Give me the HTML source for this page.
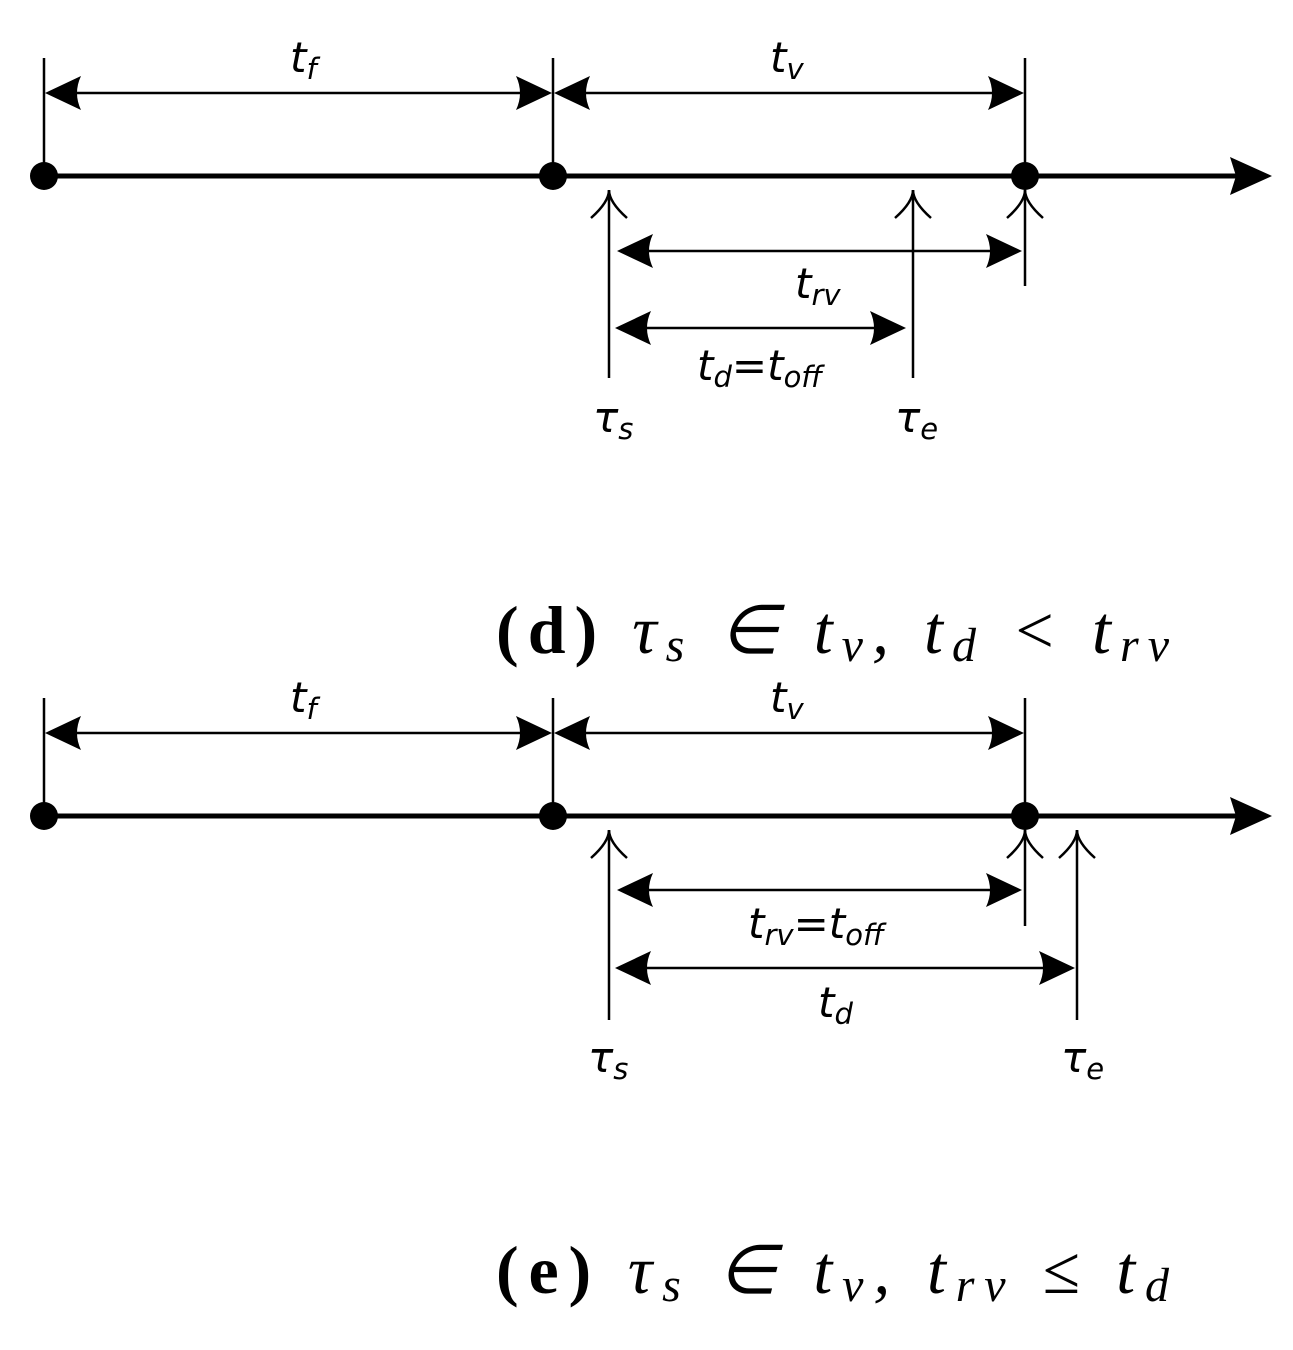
<!DOCTYPE html>
<html><head><meta charset="utf-8"><style>
html,body{margin:0;padding:0;background:#fff;}
svg{display:block;}
.l{font-family:"DejaVu Sans","Liberation Sans",sans-serif;font-style:italic;}
.c{font-family:"Liberation Serif",serif;}
</style></head><body>
<svg width="1293" height="1350" viewBox="0 0 1293 1350" xmlns="http://www.w3.org/2000/svg">
<defs>
<g id="ar"><path d="M0,0 L-36,-17 Q-28,0 -36,17 Z" fill="#000"/></g>
<g id="al"><path d="M0,0 L36,-17 Q28,0 36,17 Z" fill="#000"/></g>
<g id="oh"><path d="M-18,28 Q0,12 0,0 Q0,12 18,28" fill="none" stroke="#000" stroke-width="2.5"/></g>
</defs>

<!-- Panel d -->
<g>
<line x1="44" y1="176" x2="1240" y2="176" stroke="#000" stroke-width="5"/>
<path d="M1272,176 L1230,157 L1236,176 L1230,195 Z" fill="#000"/>
<line x1="44" y1="58" x2="44" y2="176" stroke="#000" stroke-width="2.5"/>
<line x1="553" y1="58" x2="553" y2="176" stroke="#000" stroke-width="2.5"/>
<line x1="1025" y1="58" x2="1025" y2="286" stroke="#000" stroke-width="2.5"/>
<circle cx="44" cy="176" r="14"/><circle cx="553" cy="176" r="14"/><circle cx="1025" cy="176" r="14"/>
<line x1="60" y1="93" x2="540" y2="93" stroke="#000" stroke-width="2.5"/>
<use href="#al" x="45" y="93"/><use href="#ar" x="552" y="93"/>
<line x1="568" y1="93" x2="1010" y2="93" stroke="#000" stroke-width="2.5"/>
<use href="#al" x="554" y="93"/><use href="#ar" x="1024" y="93"/>
<text class="l" x="290" y="72" font-size="42">t<tspan font-size="29" dy="7">f</tspan></text>
<text class="l" x="770" y="72" font-size="42">t<tspan font-size="29" dy="7">v</tspan></text>
<line x1="609" y1="190" x2="609" y2="378" stroke="#000" stroke-width="2.5"/><use href="#oh" x="609" y="190"/>
<line x1="913" y1="190" x2="913" y2="378" stroke="#000" stroke-width="2.5"/><use href="#oh" x="913" y="190"/>
<use href="#oh" x="1025" y="190"/>
<line x1="630" y1="251" x2="1005" y2="251" stroke="#000" stroke-width="2.5"/>
<use href="#al" x="617" y="251"/><use href="#ar" x="1022" y="251"/>
<text class="l" x="795" y="298" font-size="42">t<tspan font-size="29" dy="7">rv</tspan></text>
<line x1="630" y1="328" x2="890" y2="328" stroke="#000" stroke-width="2.5"/>
<use href="#al" x="615" y="328"/><use href="#ar" x="906" y="328"/>
<text class="l" x="697" y="380" font-size="42">t<tspan font-size="29" dy="7">d</tspan><tspan dy="-7">=t</tspan><tspan font-size="29" dy="7">off</tspan></text>
<text class="l" x="593" y="432" font-size="42">τ<tspan font-size="29" dy="7">s</tspan></text>
<text class="l" x="895" y="432" font-size="42">τ<tspan font-size="29" dy="7">e</tspan></text>
<text class="c" x="496" y="653" font-size="68" textLength="673" lengthAdjust="spacing"><tspan font-weight="bold">(d)</tspan> <tspan font-style="italic">τ<tspan font-size="48" dy="8">s</tspan><tspan dy="-8"> ∈ t</tspan><tspan font-size="48" dy="8">v</tspan><tspan dy="-8">, t</tspan><tspan font-size="48" dy="8">d</tspan><tspan dy="-8"> &lt; t</tspan><tspan font-size="48" dy="8">rv</tspan></tspan></text>
</g>

<!-- Panel e -->
<g>
<line x1="44" y1="816" x2="1240" y2="816" stroke="#000" stroke-width="5"/>
<path d="M1272,816 L1230,797 L1236,816 L1230,835 Z" fill="#000"/>
<line x1="44" y1="698" x2="44" y2="816" stroke="#000" stroke-width="2.5"/>
<line x1="553" y1="698" x2="553" y2="816" stroke="#000" stroke-width="2.5"/>
<line x1="1025" y1="698" x2="1025" y2="926" stroke="#000" stroke-width="2.5"/>
<circle cx="44" cy="816" r="14"/><circle cx="553" cy="816" r="14"/><circle cx="1025" cy="816" r="14"/>
<line x1="60" y1="733" x2="540" y2="733" stroke="#000" stroke-width="2.5"/>
<use href="#al" x="45" y="733"/><use href="#ar" x="552" y="733"/>
<line x1="568" y1="733" x2="1010" y2="733" stroke="#000" stroke-width="2.5"/>
<use href="#al" x="554" y="733"/><use href="#ar" x="1024" y="733"/>
<text class="l" x="290" y="712" font-size="42">t<tspan font-size="29" dy="7">f</tspan></text>
<text class="l" x="770" y="712" font-size="42">t<tspan font-size="29" dy="7">v</tspan></text>
<line x1="609" y1="830" x2="609" y2="1020" stroke="#000" stroke-width="2.5"/><use href="#oh" x="609" y="830"/>
<line x1="1077" y1="830" x2="1077" y2="1020" stroke="#000" stroke-width="2.5"/><use href="#oh" x="1077" y="830"/>
<use href="#oh" x="1025" y="830"/>
<line x1="630" y1="890" x2="1005" y2="890" stroke="#000" stroke-width="2.5"/>
<use href="#al" x="617" y="890"/><use href="#ar" x="1022" y="890"/>
<text class="l" x="748" y="938" font-size="42">t<tspan font-size="29" dy="7">rv</tspan><tspan dy="-7">=t</tspan><tspan font-size="29" dy="7">off</tspan></text>
<line x1="630" y1="968" x2="1060" y2="968" stroke="#000" stroke-width="2.5"/>
<use href="#al" x="615" y="968"/><use href="#ar" x="1075" y="968"/>
<text class="l" x="818" y="1017" font-size="42">t<tspan font-size="29" dy="7">d</tspan></text>
<text class="l" x="588" y="1072" font-size="42">τ<tspan font-size="29" dy="7">s</tspan></text>
<text class="l" x="1061" y="1072" font-size="42">τ<tspan font-size="29" dy="7">e</tspan></text>
<text class="c" x="496" y="1293" font-size="68" textLength="673" lengthAdjust="spacing"><tspan font-weight="bold">(e)</tspan> <tspan font-style="italic">τ<tspan font-size="48" dy="8">s</tspan><tspan dy="-8"> ∈ t</tspan><tspan font-size="48" dy="8">v</tspan><tspan dy="-8">, t</tspan><tspan font-size="48" dy="8">rv</tspan><tspan dy="-8"> ≤ t</tspan><tspan font-size="48" dy="8">d</tspan></tspan></text>
</g>
</svg>
</body></html>
